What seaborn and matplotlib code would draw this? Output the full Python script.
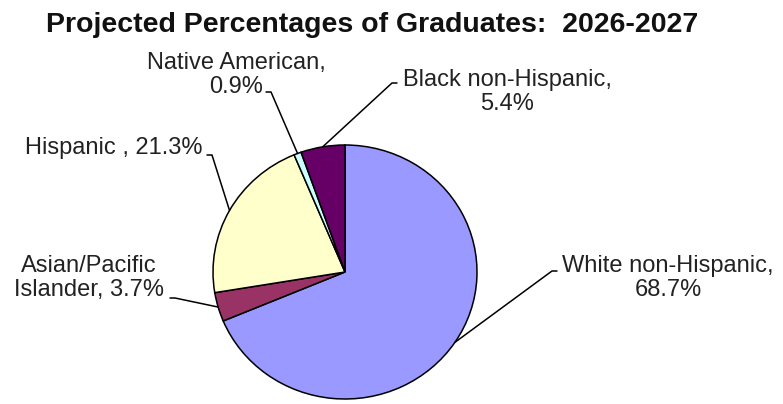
import numpy as np
import matplotlib
matplotlib.use('Agg')
import matplotlib.pyplot as plt
import seaborn as sns

# Chart data (clockwise from the top)
groups = ['White non-Hispanic', 'Asian/Pacific Islander', 'Hispanic',
          'Native American', 'Black non-Hispanic']
shares = [68.7, 3.7, 21.3, 0.9, 5.4]
labels = ['White non-Hispanic,\n68.7%', 'Asian/Pacific\nIslander, 3.7%',
          'Hispanic , 21.3%', 'Native American,\n0.9%', 'Black non-Hispanic,\n5.4%']
colors = ['#9999FF', '#993366', '#FFFFCC', '#CCFFFF', '#660066']
title = 'Projected Percentages of Graduates:  2026-2027'

sns.set_theme(style='white')
plt.rcParams['font.family'] = ['Liberation Sans', 'DejaVu Sans']

W, H = 783, 404
fig = plt.figure(figsize=(W / 100, H / 100), dpi=100)
fig.patch.set_facecolor('white')

# pie axes placed in pixels: centre (345, 272 from top), radii 132 x 127
cx, cy, rx, ry = 345, 272, 132, 127
ax = fig.add_axes([(cx - rx) / W, (H - cy - ry) / H, 2 * rx / W, 2 * ry / H])
palette = sns.color_palette(colors)
wedges, _ = ax.pie(shares, colors=palette, startangle=90, counterclock=False,
                   wedgeprops=dict(edgecolor='black', linewidth=1.1))
ax.set_aspect('auto')
ax.set_xlim(-1, 1)
ax.set_ylim(-1, 1)
ax.axis('off')

fig.text(372 / W, 1 - 32 / H, title, ha='center', va='baseline',
         fontsize=20.5, fontweight='bold', color='#111111')

# label text: centre x, last baseline (pixels from top)
text_pos = [(668, 296), (89, 296), (114, 154), (236, 93), (507, 110)]
# leader start (pixels from top), direction of the short horizontal arm
lead_pos = [(557, 271, 180), (170, 298, 0), (207, 155, 0), (266, 92, 0), (397, 83, 180)]

for w, lab, (tx, ty), (lx, ly, ang) in zip(wedges, labels, text_pos, lead_pos):
    fig.text(tx / W, 1 - ty / H, lab, ha='center', va='baseline',
             multialignment='center', fontsize=17, color='#222222',
             linespacing=1.12)
    mid = np.deg2rad((w.theta1 + w.theta2) / 2)
    ax.annotate('', xy=(np.cos(mid), np.sin(mid)), xycoords='data',
                xytext=(lx, H - ly), textcoords='figure pixels',
                arrowprops=dict(arrowstyle='-', color='black', lw=1.1,
                                shrinkA=0, shrinkB=0,
                                connectionstyle=f'arc,angleA={ang},armA=5,angleB=0,armB=0,rad=0'),
                annotation_clip=False)

fig.savefig('out.png', dpi=100, facecolor='white')
